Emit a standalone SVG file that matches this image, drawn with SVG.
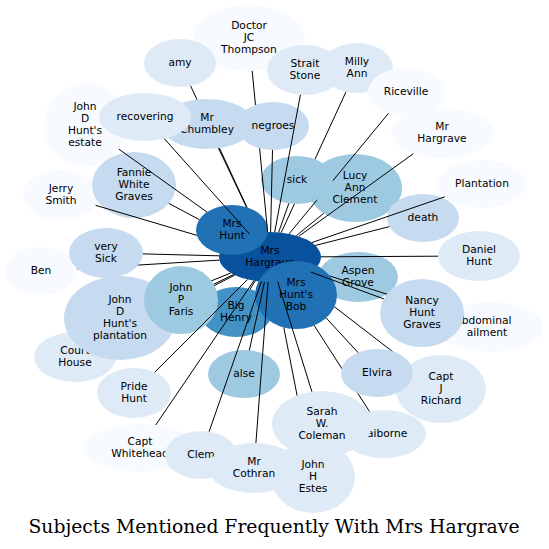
<svg xmlns="http://www.w3.org/2000/svg" width="549" height="549" viewBox="0 0 549 549">
<style>
.e{fill:none;stroke:#000;stroke-width:1}
.t{font-family:"DejaVu Sans","Liberation Sans",sans-serif;font-size:10.67px;text-anchor:middle;fill:#000}
.ttl{font-family:"DejaVu Serif","Liberation Serif",serif;font-size:19px;text-anchor:middle;fill:#000}
.b1{fill:#f7fbff}.b2{fill:#deebf7}.b3{fill:#c6dbef}.b4{fill:#9ecae1}.b6{fill:#4292c6}.b7{fill:#2171b5}.b8{fill:#08519c}
</style>
<defs>
<mask id="m-sick" maskUnits="userSpaceOnUse" x="0" y="0" width="549" height="549"><rect width="549" height="549" fill="#fff"/><ellipse cx="297" cy="180" rx="36" ry="24" fill="#000"/></mask>
<mask id="m-neg" maskUnits="userSpaceOnUse" x="0" y="0" width="549" height="549"><rect width="549" height="549" fill="#fff"/><ellipse cx="273" cy="126" rx="36" ry="24" fill="#000"/></mask>
<mask id="m-hunt" maskUnits="userSpaceOnUse" x="0" y="0" width="549" height="549"><rect width="549" height="549" fill="#fff"/><ellipse cx="232" cy="230" rx="36" ry="25" fill="#000"/></mask>
<mask id="m-chum-hunt" maskUnits="userSpaceOnUse" x="0" y="0" width="549" height="549"><rect width="549" height="549" fill="#fff"/><ellipse cx="207" cy="124" rx="47" ry="25" fill="#000"/><ellipse cx="232" cy="230" rx="36" ry="25" fill="#000"/></mask>
<mask id="m-vsick" maskUnits="userSpaceOnUse" x="0" y="0" width="549" height="549"><rect width="549" height="549" fill="#fff"/><ellipse cx="106" cy="253" rx="37" ry="25" fill="#000"/></mask>
<mask id="m-faris" maskUnits="userSpaceOnUse" x="0" y="0" width="549" height="549"><rect width="549" height="549" fill="#fff"/><ellipse cx="181" cy="300" rx="37" ry="34" fill="#000"/></mask>
<mask id="m-plant-faris" maskUnits="userSpaceOnUse" x="0" y="0" width="549" height="549"><rect width="549" height="549" fill="#fff"/><ellipse cx="120" cy="318" rx="56" ry="42" fill="#000"/><ellipse cx="181" cy="300" rx="37" ry="34" fill="#000"/></mask>
<mask id="m-bob" maskUnits="userSpaceOnUse" x="0" y="0" width="549" height="549"><rect width="549" height="549" fill="#fff"/><ellipse cx="296" cy="295" rx="41" ry="34" fill="#000"/></mask>
<mask id="m-bob-nancy" maskUnits="userSpaceOnUse" x="0" y="0" width="549" height="549"><rect width="549" height="549" fill="#fff"/><ellipse cx="296" cy="295" rx="41" ry="34" fill="#000"/><ellipse cx="422" cy="313" rx="42" ry="34" fill="#000"/></mask>
<mask id="m-bob-elvira" maskUnits="userSpaceOnUse" x="0" y="0" width="549" height="549"><rect width="549" height="549" fill="#fff"/><ellipse cx="296" cy="295" rx="41" ry="34" fill="#000"/><ellipse cx="377" cy="373" rx="36" ry="24" fill="#000"/></mask>
<mask id="m-bob-sarah" maskUnits="userSpaceOnUse" x="0" y="0" width="549" height="549"><rect width="549" height="549" fill="#fff"/><ellipse cx="296" cy="295" rx="41" ry="34" fill="#000"/><ellipse cx="322" cy="424" rx="50" ry="33" fill="#000"/></mask>
</defs>
<rect width="549" height="549" fill="#fff"/>
<g id="nodes">
<g id="n-doctor"><ellipse class="b1" cx="249" cy="38" rx="56" ry="33"/><text class="t"><tspan x="249" y="29.3">Doctor</tspan><tspan x="249" y="41.3">JC</tspan><tspan x="249" y="53.3">Thompson</tspan></text></g>
<g id="n-amy"><ellipse class="b2" cx="180" cy="63" rx="36" ry="24"/><text class="t" x="180" y="66.3">amy</text></g>
<g id="n-strait"><ellipse class="b2" cx="305" cy="70" rx="38" ry="25"/><text class="t"><tspan x="305" y="67.3">Strait</tspan><tspan x="305" y="79.3">Stone</tspan></text></g>
<g id="n-milly"><ellipse class="b2" cx="357" cy="68" rx="36" ry="25"/><text class="t"><tspan x="357" y="65.3">Milly</tspan><tspan x="357" y="77.3">Ann</tspan></text></g>
<g id="n-riceville"><ellipse class="b1" cx="406" cy="92" rx="38" ry="24"/><text class="t" x="406" y="95.3">Riceville</text></g>
<g id="n-mrhargrave"><ellipse class="b1" cx="442" cy="133" rx="51" ry="25"/><text class="t"><tspan x="442" y="130.3">Mr</tspan><tspan x="442" y="142.3">Hargrave</tspan></text></g>
<g id="n-plantation-word"><ellipse class="b1" cx="482" cy="184" rx="44" ry="24"/><text class="t" x="482" y="187.3">Plantation</text></g>
<g id="n-estate"><ellipse class="b1" cx="85" cy="125" rx="41" ry="42"/><text class="t"><tspan x="85" y="110.3">John</tspan><tspan x="85" y="122.3">D</tspan><tspan x="85" y="134.3">Hunt's</tspan><tspan x="85" y="146.3">estate</tspan></text></g>
<g id="n-lucy"><ellipse class="b4" cx="355" cy="188" rx="47" ry="34"/><text class="t"><tspan x="355" y="179.3">Lucy</tspan><tspan x="355" y="191.3">Ann</tspan><tspan x="355" y="203.3">Clement</tspan></text></g>
<g id="n-sick"><ellipse class="b4" cx="297" cy="180" rx="36" ry="24"/><text class="t" x="297" y="183.3">sick</text></g>
<g id="n-chumbley"><ellipse class="b3" cx="207" cy="124" rx="47" ry="25"/><text class="t"><tspan x="207" y="121.3">Mr</tspan><tspan x="207" y="133.3">Chumbley</tspan></text></g>
<g id="n-negroes"><ellipse class="b3" cx="273" cy="126" rx="36" ry="24"/><text class="t" x="273" y="129.3">negroes</text></g>
<g id="n-death"><ellipse class="b3" cx="423" cy="218" rx="36" ry="24"/><text class="t" x="423" y="221.3">death</text></g>
<g id="n-jerry"><ellipse class="b1" cx="61" cy="195" rx="38" ry="25"/><text class="t"><tspan x="61" y="192.3">Jerry</tspan><tspan x="61" y="204.3">Smith</tspan></text></g>
<g id="n-fannie"><ellipse class="b3" cx="134" cy="185" rx="42" ry="33"/><text class="t"><tspan x="134" y="176.3">Fannie</tspan><tspan x="134" y="188.3">White</tspan><tspan x="134" y="200.3">Graves</tspan></text></g>
<g id="n-mrshargrave"><ellipse class="b8" cx="270" cy="257" rx="51" ry="25"/><text class="t"><tspan x="270" y="254.3">Mrs</tspan><tspan x="270" y="266.3">Hargrave</tspan></text></g>
<g id="n-mrshunt"><ellipse class="b7" cx="232" cy="230" rx="36" ry="25"/><text class="t"><tspan x="232" y="227.3">Mrs</tspan><tspan x="232" y="239.3">Hunt</tspan></text></g>
<g id="n-recovering"><ellipse class="b2" cx="145" cy="117" rx="46" ry="24"/><text class="t" x="145" y="120.3">recovering</text></g>
<g id="n-ben"><ellipse class="b1" cx="41" cy="271" rx="36" ry="24"/><text class="t" x="41" y="274.3">Ben</text></g>
<g id="n-verysick"><ellipse class="b3" cx="106" cy="253" rx="37" ry="25"/><text class="t"><tspan x="106" y="250.3">very</tspan><tspan x="106" y="262.3">Sick</tspan></text></g>
<g id="n-courthouse"><ellipse class="b2" cx="75" cy="357" rx="41" ry="25"/><text class="t"><tspan x="75" y="354.3">Court</tspan><tspan x="75" y="366.3">House</tspan></text></g>
<g id="n-plantation"><ellipse class="b3" cx="120" cy="318" rx="56" ry="42"/><text class="t"><tspan x="120" y="303.3">John</tspan><tspan x="120" y="315.3">D</tspan><tspan x="120" y="327.3">Hunt's</tspan><tspan x="120" y="339.3">plantation</tspan></text></g>
<g id="n-bighenry"><ellipse class="b6" cx="236" cy="312" rx="36" ry="25"/><text class="t"><tspan x="236" y="309.3">Big</tspan><tspan x="236" y="321.3">Henry</tspan></text></g>
<g id="n-faris"><ellipse class="b4" cx="181" cy="300" rx="37" ry="34"/><text class="t"><tspan x="181" y="291.3">John</tspan><tspan x="181" y="303.3">P</tspan><tspan x="181" y="315.3">Faris</tspan></text></g>
<g id="n-daniel"><ellipse class="b2" cx="479" cy="256" rx="41" ry="25"/><text class="t"><tspan x="479" y="253.3">Daniel</tspan><tspan x="479" y="265.3">Hunt</tspan></text></g>
<g id="n-aspen"><ellipse class="b4" cx="358" cy="277" rx="40" ry="25"/><text class="t"><tspan x="358" y="274.3">Aspen</tspan><tspan x="358" y="286.3">Grove</tspan></text></g>
<g id="n-abdominal"><ellipse class="b1" cx="490" cy="327" rx="53" ry="25"/><text class="t"><tspan x="483" y="324.3">Abdominal</tspan><tspan x="487" y="336.3">ailment</tspan></text></g>
<g id="n-richard"><ellipse class="b2" cx="441" cy="389" rx="45" ry="34"/><text class="t"><tspan x="441" y="380.3">Capt</tspan><tspan x="441" y="392.3">J</tspan><tspan x="441" y="404.3">Richard</tspan></text></g>
<g id="n-claiborne"><ellipse class="b2" cx="384" cy="434" rx="42" ry="24"/><text class="t" x="382" y="437.3">Claiborne</text></g>
<g id="n-elvira"><ellipse class="b3" cx="377" cy="373" rx="36" ry="24"/><text class="t" x="377" y="376.3">Elvira</text></g>
<g id="n-estes"><ellipse class="b2" cx="313" cy="477" rx="42" ry="36"/><text class="t"><tspan x="313" y="468.3">John</tspan><tspan x="313" y="480.3">H</tspan><tspan x="313" y="492.3">Estes</tspan></text></g>
<g id="n-bob"><ellipse class="b7" cx="296" cy="295" rx="41" ry="34"/><text class="t"><tspan x="296" y="286.3">Mrs</tspan><tspan x="296" y="298.3">Hunt's</tspan><tspan x="296" y="310.3">Bob</tspan></text></g>
<g id="n-nancy"><ellipse class="b3" cx="422" cy="313" rx="42" ry="34"/><text class="t"><tspan x="422" y="304.3">Nancy</tspan><tspan x="422" y="316.3">Hunt</tspan><tspan x="422" y="328.3">Graves</tspan></text></g>
<g id="n-sarah"><ellipse class="b2" cx="322" cy="424" rx="50" ry="33"/><text class="t"><tspan x="322" y="415.3">Sarah</tspan><tspan x="322" y="427.3">W.</tspan><tspan x="322" y="439.3">Coleman</tspan></text></g>
<g id="n-alse"><ellipse class="b4" cx="244" cy="374" rx="36" ry="24"/><text class="t" x="244" y="377.3">alse</text></g>
<g id="n-pride"><ellipse class="b2" cx="134" cy="393" rx="37" ry="25"/><text class="t"><tspan x="134" y="390.3">Pride</tspan><tspan x="134" y="402.3">Hunt</tspan></text></g>
<g id="n-whitehead"><ellipse class="b1" cx="140" cy="448" rx="56" ry="24"/><text class="t"><tspan x="140" y="445.3">Capt</tspan><tspan x="140" y="457.3">Whitehead</tspan></text></g>
<g id="n-clem"><ellipse class="b2" cx="201" cy="455" rx="36" ry="24"/><text class="t" x="201" y="458.3">Clem</text></g>
<g id="n-cothran"><ellipse class="b2" cx="254" cy="468" rx="46" ry="25"/><text class="t"><tspan x="254" y="465.3">Mr</tspan><tspan x="254" y="477.3">Cothran</tspan></text></g>
</g>
<g id="connectors">
<path class="e" mask="url(#m-neg)" d="M267.6,232.0L252.2,70.9"/>
<path class="e" mask="url(#m-chum-hunt)" d="M258.7,232.6L190.6,85.9"/>
<path class="e" d="M274.7,232.1L300.4,94.8"/>
<path class="e" mask="url(#m-sick)" d="M281.2,232.6L346.0,91.8"/>
<path class="e" mask="url(#m-sick)" d="M289.1,233.8L388.5,113.3"/>
<path class="e" d="M298.7,236.3L413.3,153.7"/>
<path class="e" d="M311.7,242.6L444.8,196.8"/>
<path class="e" mask="url(#m-hunt)" d="M241.1,236.4L118.7,149.0"/>
<path class="e" d="M296.4,235.6L323.7,213.4"/>
<path class="e" d="M278.6,232.4L288.8,203.4"/>
<path class="e" d="M270.6,232.0L272.5,150.0"/>
<path class="e" mask="url(#m-hunt)" d="M258.5,232.6L218.5,148.2"/>
<path class="e" d="M249.6,234.1L164.4,138.8"/>
<path class="e" d="M315.2,245.5L389.4,226.6"/>
<path class="e" mask="url(#m-hunt)" d="M226.4,244.1L95.6,205.3"/>
<path class="e" mask="url(#m-hunt)" d="M235.3,238.7L168.8,203.4"/>
<path class="e" mask="url(#m-hunt)" d="M241.0,236.4L257.2,247.9"/>
<path class="e" mask="url(#m-vsick)" d="M219.4,260.1L76.9,268.8"/>
<path class="e" d="M219.0,255.8L143.0,253.9"/>
<path class="e" mask="url(#m-plant-faris)" d="M234.8,275.1L106.4,340.9"/>
<path class="e" mask="url(#m-faris)" d="M230.7,273.0L169.2,298.0"/>
<path class="e" d="M255.2,280.9L250.2,289.0"/>
<path class="e" d="M233.7,274.5L213.8,284.2"/>
<path class="e" d="M321.0,256.8L438.0,256.2"/>
<path class="e" mask="url(#m-bob)" d="M316.3,267.5L320.4,268.5"/>
<path class="e" mask="url(#m-bob-nancy)" d="M312.8,270.6L446.1,313.0"/>
<path class="e" mask="url(#m-bob-elvira)" d="M297.3,278.1L409.5,364.7"/>
<path class="e" mask="url(#m-bob-elvira)" d="M285.4,280.8L369.5,411.5"/>
<path class="e" mask="url(#m-bob)" d="M291.0,279.8L358.1,352.6"/>
<path class="e" mask="url(#m-bob-sarah)" d="M274.9,281.9L306.1,441.5"/>
<path class="e" mask="url(#m-bob)" d="M286.2,280.7L275.8,265.4"/>
<path class="e" d="M310.8,272.0L383.8,298.9"/>
<path class="e" d="M277.7,281.7L311.9,391.7"/>
<path class="e" d="M264.5,281.9L249.3,350.3"/>
<path class="e" d="M247.5,279.5L154.7,372.3"/>
<path class="e" d="M253.9,280.7L155.7,425.0"/>
<path class="e" d="M261.4,281.6L209.1,431.6"/>
<path class="e" d="M268.1,282.0L255.9,443.0"/>
</g>
<text class="ttl" x="274" y="533" textLength="491" lengthAdjust="spacingAndGlyphs">Subjects Mentioned Frequently With Mrs Hargrave</text>
</svg>
